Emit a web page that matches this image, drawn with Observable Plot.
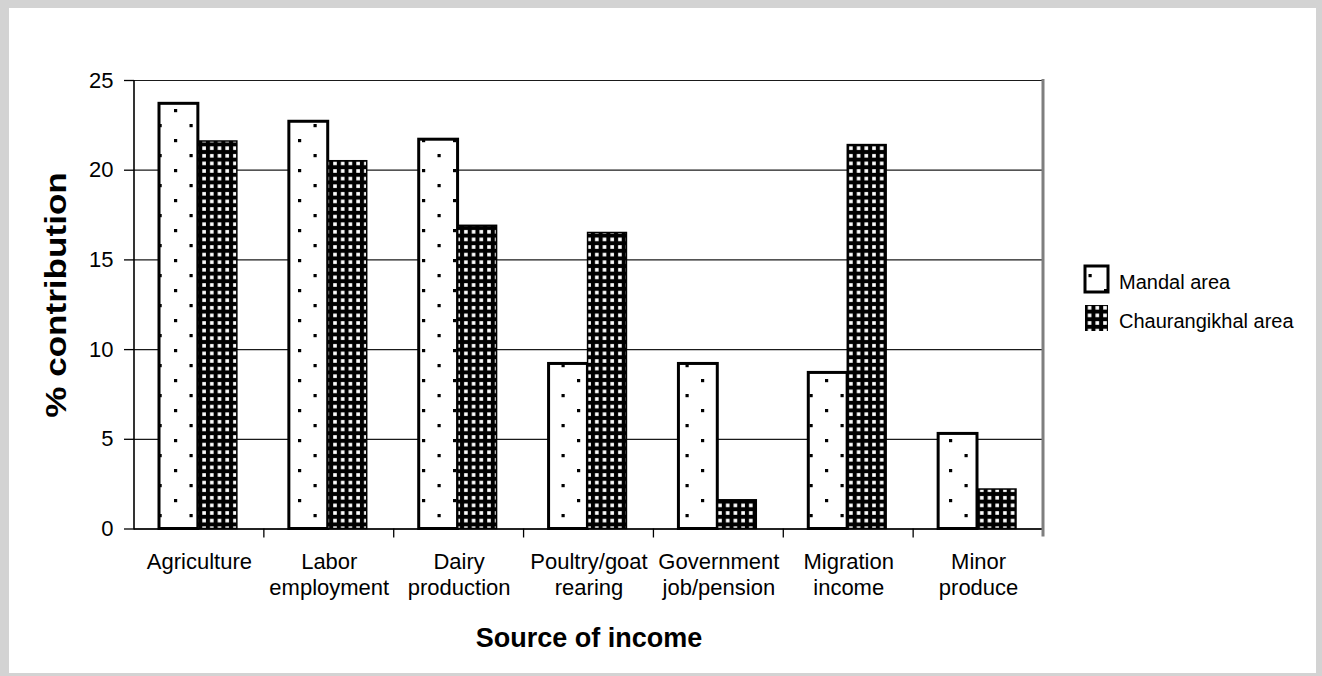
<!DOCTYPE html>
<html>
<head>
<meta charset="utf-8">
<script src="https://cdn.jsdelivr.net/npm/d3@7"></script>
<script src="https://cdn.jsdelivr.net/npm/@observablehq/plot@0.6"></script>
<style>
  html, body { margin: 0; padding: 0; background: #fff; }
  body { width: 1322px; height: 676px; position: relative; overflow: hidden; font-family: "Liberation Sans", Arial, sans-serif; }
  #chart { position: absolute; left: 0; top: 0; }
  #overlay { position: absolute; left: 0; top: 0; pointer-events: none; }
  #border { position: absolute; left: 0; top: 0; width: 1322px; height: 676px; box-sizing: border-box;
            border-style: solid; border-color: #d3d3d3; border-width: 8px 6px 3px 9px; pointer-events: none; }
</style>
</head>
<body>
<svg width="0" height="0" style="position:absolute">
  <defs>
    <pattern id="pat-mandal" patternUnits="userSpaceOnUse" width="31" height="30">
      <rect width="31" height="30" fill="#fff"></rect>
      <rect x="3.5" y="4" width="3.2" height="3.2" fill="#000"></rect>
      <rect x="19" y="19" width="3.2" height="3.2" fill="#000"></rect>
    </pattern>
    <pattern id="pat-chaur" patternUnits="userSpaceOnUse" width="7.7" height="7.6">
      <rect width="7.7" height="7.6" fill="#000"></rect>
      <rect x="2.1" y="2" width="3.6" height="3.6" fill="#fff"></rect>
    </pattern>
  </defs>
</svg>
<div id="chart"></div>
<svg id="overlay" width="1322" height="676"></svg>
<div id="border"></div>
<script>
// ---- data ----
const categories = ["Agriculture", "Labor employment", "Dairy production", "Poultry/goat rearing",
                    "Government job/pension", "Migration income", "Minor produce"];
const tickLabels = ["Agriculture", "Labor\nemployment", "Dairy\nproduction", "Poultry/goat\nrearing",
                    "Government\njob/pension", "Migration\nincome", "Minor\nproduce"];
const seriesNames = ["Mandal area", "Chaurangikhal area"];
const mandal = [23.7, 22.7, 21.7, 9.2, 9.2, 8.7, 5.3];
const chaurangikhal = [21.6, 20.5, 16.9, 16.5, 1.6, 21.4, 2.2];
const yTicks = [0, 5, 10, 15, 20, 25];
const xTitle = "Source of income";
const yTitle = "% contribution";

const rows = categories.map((c, i) => ({category: c, mandal: mandal[i], chaur: chaurangikhal[i]}));

// boundary ticks, y axis line and right plot-area border, drawn from the scales
function frameLines(index, scales) {
  const {x, y} = scales;
  const g = d3.create("svg:g");
  const bw = x.bandwidth();
  const edges = categories.map(c => x(c)).concat([x(categories[categories.length - 1]) + bw]);
  const y0 = y(0), yTop = y(25);
  g.selectAll("line.edge").data(edges.slice(1, -1)).join("line")
    .attr("x1", d => d).attr("x2", d => d).attr("y1", y0).attr("y2", y0 + 9)
    .attr("stroke", "#000").attr("stroke-width", 1.3);
  // right border (grey)
  g.append("line").attr("x1", edges[edges.length - 1]).attr("x2", edges[edges.length - 1])
    .attr("y1", yTop - 1).attr("y2", y0 + 8).attr("stroke", "#7f7f7f").attr("stroke-width", 3);
  // left axis line
  g.append("line").attr("x1", edges[0]).attr("x2", edges[0])
    .attr("y1", yTop).attr("y2", y0 + 1).attr("stroke", "#000").attr("stroke-width", 1.6);
  return g.node();
}

const plot = Plot.plot({
  width: 1322,
  height: 676,
  marginLeft: 134,
  marginRight: 279,
  marginTop: 80,
  marginBottom: 147.5,
  style: {fontFamily: "'Liberation Sans', Arial, sans-serif", fontSize: "22px", color: "#000", background: "transparent", overflow: "visible"},
  x: {domain: categories, padding: 0, round: false, label: null, axis: null},
  y: {domain: [0, 25], label: null, axis: null},
  marks: [
    Plot.gridY(yTicks, {stroke: "#1a1a1a", strokeOpacity: 1, strokeWidth: 1.2}),
    Plot.barY(rows, {x: "category", y: "mandal", fill: "url(#pat-mandal)", stroke: "#000", strokeWidth: 3, insetLeft: 25, insetRight: 66}),
    Plot.barY(rows, {x: "category", y: "chaur", fill: "url(#pat-chaur)", stroke: "#000", strokeWidth: 1.5, insetLeft: 64, insetRight: 27}),
    Plot.ruleY([0], {stroke: "#000", strokeWidth: 1.6}),
    Plot.axisY({ticks: yTicks, tickSize: 10, tickPadding: 11, fontSize: 22, label: null, stroke: "#000", strokeWidth: 1.3}),
    Plot.axisX({tickSize: 0, tickPadding: 22, fontSize: 22, lineHeight: 1.18, label: null,
                tickFormat: d => tickLabels[categories.indexOf(d)]}),
    frameLines
  ]
});
document.getElementById("chart").appendChild(plot);

// titles and legend
const ov = d3.select("#overlay");
ov.append("text").attr("x", 589).attr("y", 647).attr("text-anchor", "middle")
  .attr("font-family", "'Liberation Sans', Arial, sans-serif").attr("font-weight", "bold").attr("font-size", 27)
  .text(xTitle);
ov.append("text").attr("transform", "translate(66,295) rotate(-90) scale(1.17,1)").attr("text-anchor", "middle")
  .attr("font-family", "'Liberation Sans', Arial, sans-serif").attr("font-weight", "bold").attr("font-size", 30)
  .text(yTitle);

const legendFills = ["url(#pat-mandal)", "url(#pat-chaur)"];
const legendStrokes = [3, 0];
const lg = ov.append("g");
seriesNames.forEach((name, i) => {
  const top = 266 + i * 39;
  lg.append("rect").attr("x", 1085).attr("y", top).attr("width", 23).attr("height", 26)
    .attr("fill", legendFills[i]).attr("stroke", i === 0 ? "#000" : "none").attr("stroke-width", legendStrokes[i]);
  lg.append("text").attr("x", 1119).attr("y", top + 23)
    .attr("font-family", "'Liberation Sans', Arial, sans-serif").attr("font-size", 20).attr("fill", "#000")
    .text(name);
});
</script>
</body>
</html>
